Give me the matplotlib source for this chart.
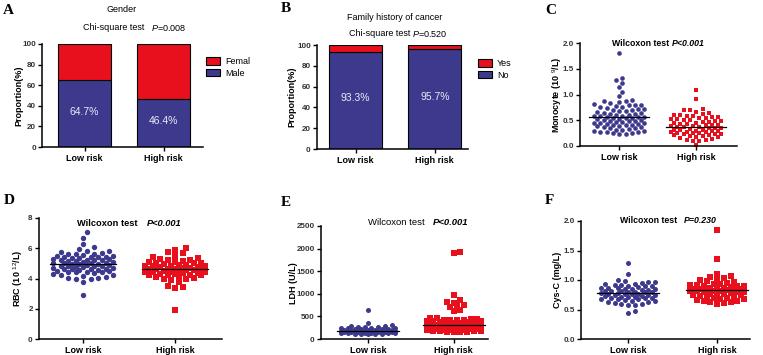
import numpy as np
import matplotlib.pyplot as plt
from matplotlib.patches import Patch

plt.rcParams['font.family'] = ['Liberation Sans', 'DejaVu Sans']
plt.rcParams['mathtext.fontset'] = 'custom'
plt.rcParams['mathtext.rm'] = 'Liberation Sans'
plt.rcParams['mathtext.it'] = 'Liberation Sans:italic'
plt.rcParams['mathtext.bf'] = 'Liberation Sans:bold'

BLUE = '#3d3a8e'
RED = '#e8101c'

groups = ['Low risk', 'High risk']

# A: gender (percent male)
male_pct = [64.7, 46.4]
# B: family history of cancer (percent no)
no_hist_pct = [93.3, 95.7]

# C: monocyte (10^9/L)
mono_low = [1.81, 1.33, 1.29, 1.22, 1.14, 1.05, 0.97, 0.90, 0.88, 0.87, 0.86,
            0.83, 0.81, 0.80, 0.80, 0.80, 0.78, 0.76, 0.75, 0.74, 0.72, 0.71, 0.70,
            0.69, 0.68, 0.67, 0.66, 0.65, 0.64, 0.63, 0.62, 0.61, 0.60,
            0.59, 0.58, 0.58, 0.57, 0.57, 0.56, 0.55, 0.55, 0.54, 0.53, 0.52, 0.51, 0.50,
            0.49, 0.48, 0.48, 0.47, 0.46, 0.45, 0.45, 0.44, 0.43, 0.42, 0.41, 0.41, 0.40,
            0.39, 0.38, 0.37, 0.36, 0.35, 0.34, 0.33, 0.32, 0.31, 0.30,
            0.29, 0.28, 0.28, 0.27, 0.26, 0.25, 0.24, 0.23]
mono_high = [1.08, 0.91, 0.72, 0.70, 0.69, 0.66, 0.64, 0.62, 0.61, 0.60,
             0.59, 0.58, 0.57, 0.56, 0.55, 0.54, 0.53, 0.52, 0.51, 0.50,
             0.49, 0.48, 0.47, 0.46, 0.45, 0.44, 0.43, 0.42, 0.41, 0.40, 0.40,
             0.39, 0.38, 0.37, 0.37, 0.36, 0.35, 0.35, 0.34, 0.33, 0.32, 0.32,
             0.31, 0.30, 0.30, 0.29, 0.28, 0.28, 0.27, 0.26, 0.26, 0.25, 0.24,
             0.24, 0.23, 0.22, 0.21, 0.20, 0.19, 0.18, 0.17, 0.16, 0.14, 0.12,
             0.11, 0.10, 0.09, 0.01]

# D: RBC (10^12/L)
rbc_low = [7.05, 6.70, 6.30, 6.05, 5.95, 5.85, 5.80, 5.75, 5.70, 5.65, 5.60, 5.60,
           5.55, 5.50, 5.50, 5.45, 5.45, 5.40, 5.40, 5.35, 5.35, 5.30, 5.30, 5.25,
           5.25, 5.20, 5.20, 5.15, 5.15, 5.10, 5.10, 5.05, 5.05, 5.00, 5.00, 4.95,
           4.95, 4.95, 4.90, 4.90, 4.85, 4.85, 4.80, 4.80, 4.75, 4.75, 4.70, 4.70,
           4.65, 4.65, 4.60, 4.60, 4.55, 4.55, 4.50, 4.50, 4.45, 4.45, 4.40, 4.40,
           4.35, 4.30, 4.25, 4.20, 4.15, 4.10, 4.05, 4.05, 4.00, 4.00, 3.75, 2.90]
rbc_high = [6.00, 5.90, 5.75, 5.70, 5.50, 5.40, 5.35, 5.30, 5.25, 5.20, 5.15, 5.10,
            5.10, 5.05, 5.00, 5.00, 4.95, 4.90, 4.90, 4.85, 4.85, 4.80, 4.80, 4.75,
            4.75, 4.70, 4.70, 4.65, 4.65, 4.60, 4.60, 4.60, 4.55, 4.55, 4.50, 4.50,
            4.45, 4.45, 4.40, 4.40, 4.35, 4.35, 4.30, 4.30, 4.25, 4.25, 4.20, 4.20,
            4.15, 4.10, 4.05, 4.00, 3.95, 3.90, 3.75, 3.50, 3.45, 3.40, 1.90]

# E: LDH (U/L)
ldh_low = [640, 360, 300, 290, 280, 270, 265, 260, 250, 245, 240, 235, 230, 225,
           220, 215, 210, 205, 200, 200, 195, 190, 190, 185, 185, 180, 180, 175,
           175, 170, 170, 165, 165, 160, 160, 155, 155, 150, 150, 145, 145, 140,
           140, 135, 130, 130, 125, 120, 115, 110, 105, 100]
ldh_high = [1920, 1900, 980, 870, 820, 800, 760, 720, 700, 640, 620,
            470, 460, 450, 440, 430, 420, 415, 410, 405, 400, 395, 390, 385, 380,
            370, 360, 350, 340, 330, 320, 310, 300, 290, 285, 280, 275, 270, 265,
            260, 255, 250, 245, 240, 235, 230, 225, 220, 215, 210, 205, 200, 195,
            190, 185, 180, 175, 170, 165, 160, 155, 150]

# F: Cys-C (mg/L)
cys_low = [1.28, 1.11, 1.00, 0.98, 0.97, 0.96, 0.95, 0.94, 0.93, 0.92, 0.91, 0.90,
           0.90, 0.89, 0.88, 0.87, 0.87, 0.86, 0.85, 0.85, 0.84, 0.83, 0.83, 0.82,
           0.81, 0.81, 0.80, 0.80, 0.79, 0.79, 0.78, 0.78, 0.77, 0.77, 0.76, 0.76,
           0.75, 0.75, 0.74, 0.73, 0.73, 0.72, 0.71, 0.71, 0.70, 0.70, 0.69, 0.68,
           0.68, 0.67, 0.66, 0.65, 0.64, 0.63, 0.62, 0.61, 0.60, 0.59, 0.58, 0.57,
           0.47, 0.44]
cys_high = [1.85, 1.35, 1.11, 1.07, 1.05, 1.04, 1.02, 1.00, 0.98, 0.96, 0.95, 0.94,
            0.93, 0.92, 0.91, 0.90, 0.90, 0.89, 0.88, 0.87, 0.87, 0.86, 0.85, 0.85,
            0.84, 0.84, 0.83, 0.83, 0.82, 0.82, 0.81, 0.81, 0.80, 0.80, 0.79, 0.78,
            0.77, 0.77, 0.76, 0.75, 0.74, 0.73, 0.72, 0.71, 0.70, 0.69, 0.68, 0.67,
            0.66, 0.65, 0.64, 0.63, 0.62, 0.61, 0.60]

W, H = 763, 355
fig = plt.figure(figsize=(W / 100, H / 100), dpi=100)


def box(l, t, r, b):
    return [l / W, 1 - b / H, (r - l) / W, (b - t) / H]


def ftext(x, y, s, **kw):
    kw.setdefault('va', 'center')
    fig.text(x / W, 1 - y / H, s, **kw)


def style(ax):
    for s in ['top', 'right']:
        ax.spines[s].set_visible(False)
    for s in ['left', 'bottom']:
        ax.spines[s].set_linewidth(1.1)
    ax.tick_params(axis='y', length=3, width=1, labelsize=5.8, pad=1.5,
                   labelcolor='#333333')
    ax.tick_params(axis='x', length=3, width=1, labelsize=6.5, pad=2)
    for lab in ax.get_yticklabels():
        lab.set_fontweight('bold')
    for lab in ax.get_xticklabels():
        lab.set_fontweight('bold')


def swarm(ypx, d, gap, step, maxw):
    # simple beeswarm in pixel space, points kept inside +-maxw
    order = np.argsort(ypx)
    xs = np.zeros(len(ypx))
    cands = [0.0]
    k = 1
    while k * step <= maxw:
        cands += [k * step, -k * step]
        k += 1
    placed = []
    for i in order:
        best, bestd = 0.0, -1.0
        for c in cands:
            if placed:
                p = np.array(placed)
                md = np.min(np.hypot(p[:, 0] - c, p[:, 1] - ypx[i]))
            else:
                md = np.inf
            if md >= gap * d:
                best = c
                break
            if md > bestd:
                best, bestd = c, md
        xs[i] = best
        placed.append((best, ypx[i]))
    return xs


def stacked(rect, xlim, pct, top_color, bot_color, legend_labels, legend_box):
    ax = fig.add_axes(box(*rect))
    x = np.arange(len(groups))
    pct = np.array(pct)
    ax.bar(x, pct, width=0.67, color=bot_color, edgecolor='black', lw=0.8)
    ax.bar(x, 100 - pct, bottom=pct, width=0.67, color=top_color,
           edgecolor='black', lw=0.8)
    for xi, p in zip(x, pct):
        ax.text(xi, p / 2 + 2, '%.1f%%' % p, ha='center', va='center',
                color='#ece9f7', fontsize=7.5)
    ax.set_xlim(*xlim)
    ax.set_ylim(0, 100)
    ax.set_yticks([0, 20, 40, 60, 80, 100])
    ax.set_xticks(x)
    ax.set_xticklabels(groups)
    style(ax)
    handles = [Patch(facecolor=top_color, edgecolor='black', lw=0.8),
               Patch(facecolor=bot_color, edgecolor='black', lw=0.8)]
    lx, ly = legend_box
    fig.legend(handles, legend_labels, loc='upper left',
               bbox_to_anchor=(lx / W, 1 - ly / H), frameon=False,
               fontsize=6.5, handlelength=1.5, handleheight=0.9,
               handletextpad=0.6, labelspacing=0.3, borderaxespad=0,
               borderpad=0)
    return ax


def dots(rect, xlim, ylim, yticks, low, high, d_px, half_px, ms, gap=1.15):
    l, t, r, b = rect
    ax = fig.add_axes(box(*rect))
    ppx = (r - l) / (xlim[1] - xlim[0])
    ppy = (b - t) / (ylim[1] - ylim[0])
    for i, (vals, col, mk) in enumerate([(low, BLUE, 'o'), (high, RED, 's')]):
        vals = np.asarray(vals, float)
        xs = swarm(vals * ppy, d_px, gap, d_px * 0.75, half_px) / ppx
        ax.scatter(i + xs, vals, s=ms, marker=mk, color=col, lw=0,
                   clip_on=False, zorder=2)
        med = np.median(vals)
        hw = (half_px + 3) / ppx
        ax.plot([i - hw, i + hw], [med, med], color='black', lw=0.9, zorder=3)
    ax.set_xlim(*xlim)
    ax.set_ylim(*ylim)
    ax.set_yticks(yticks)
    ax.set_xticks([0, 1])
    ax.set_xticklabels(groups)
    style(ax)
    return ax


# ---- A ----
stacked((42, 44, 203, 147), (-0.54, 1.5), male_pct, RED, BLUE,
        ['Femal', 'Male'], (206, 57))
ftext(3, 11, 'A', fontsize=11, fontweight='bold', family='Liberation Serif')
ftext(122, 10, 'Gender', ha='center', fontsize=6.5)
ftext(83, 28, 'Chi-square test', fontsize=6.5)
ftext(151, 28, '$\\it{P}$=0.008', fontsize=6.5)
ftext(19, 96, 'Proportion(%)', rotation=90, ha='center', fontsize=6.5,
      fontweight='bold')

# ---- B ----
stacked((317, 45, 468, 149), (-0.49, 1.42), no_hist_pct, RED, BLUE,
        ['Yes', 'No'], (478, 59))
ftext(281, 9, 'B', fontsize=11, fontweight='bold', family='Liberation Serif')
ftext(395, 17, 'Family history of cancer', ha='center', fontsize=6.5)
ftext(349, 34, 'Chi-square test', fontsize=6.5)
ftext(412, 34, '$\\it{P}$=0.520', fontsize=6.5)
ftext(292, 97, 'Proportion(%)', rotation=90, ha='center', fontsize=6.5,
      fontweight='bold')

# ---- C ----
dots((580, 43, 737, 146), (-0.51, 1.53), (0, 2.0), [0, 0.5, 1.0, 1.5, 2.0],
     mono_low, mono_high, 4.2, 27, 11)
ftext(545, 11, 'C', fontsize=11, fontweight='bold', family='Liberation Serif')
ftext(612, 43, 'Wilcoxon test', fontsize=6.3, fontweight='bold')
ftext(672, 43, 'P<0.001', fontsize=6.3, fontweight='bold', style='italic')
ftext(557, 95, 'Monocyte (10 $^{9}$/L)', rotation=90, ha='center',
      fontsize=6.5, fontweight='bold')

# ---- D ----
dots((39, 218, 222, 339), (-0.48, 1.51), (0, 8), [0, 2, 4, 6, 8],
     rbc_low, rbc_high, 5.0, 30, 15, gap=1.1)
ftext(4, 201, 'D', fontsize=11, fontweight='bold', family='Liberation Serif')
ftext(77, 223, 'Wilcoxon test', fontsize=6.7, fontweight='bold')
ftext(147, 223, 'P<0.001', fontsize=6.7, fontweight='bold', style='italic')
ftext(18, 278, 'RBC (10 $^{12}$/L)', rotation=90, ha='center',
      fontsize=6.5, fontweight='bold')

# ---- E ----
dots((321, 226, 488, 339), (-0.55, 1.4), (0, 2500),
     [0, 500, 1000, 1500, 2000, 2500], ldh_low, ldh_high, 4.5, 28, 13, gap=1.05)
ftext(281, 203, 'E', fontsize=11, fontweight='bold', family='Liberation Serif')
ftext(368, 222, 'Wilcoxon test', fontsize=6.8)
ftext(433, 222, 'P<0.001', fontsize=6.8, fontweight='bold', style='italic')
ftext(293, 283, 'LDH (U/L)', rotation=90, ha='center', fontsize=6.5,
      fontweight='bold')

# ---- F ----
dots((581, 221, 750, 339), (-0.53, 1.37), (0, 2.0), [0, 0.5, 1.0, 1.5, 2.0],
     cys_low, cys_high, 4.5, 28, 13, gap=1.1)
ftext(545, 201, 'F', fontsize=11, fontweight='bold', family='Liberation Serif')
ftext(620, 221, 'Wilcoxon test', fontsize=6.3, fontweight='bold')
ftext(684, 221, 'P=0.230', fontsize=6.3, fontweight='bold', style='italic')
ftext(557, 280, 'Cys-C (mg/L)', rotation=90, ha='center', fontsize=6.5,
      fontweight='bold')

fig.savefig('out.png', dpi=100)
